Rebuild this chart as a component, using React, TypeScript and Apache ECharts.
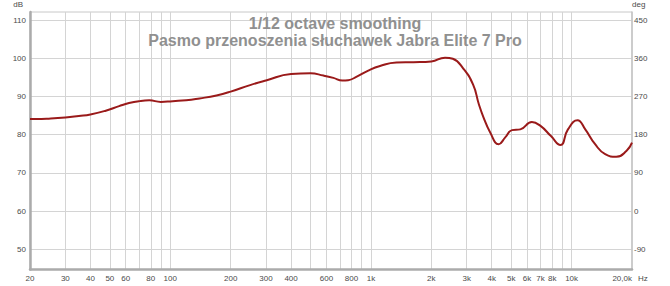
import React, { useEffect, useRef } from "react";
import * as echarts from "echarts";

const freqHz = [20, 21.5, 24.8, 30, 35, 40, 47.7, 55.6, 62.3, 70, 78.6, 89.8, 102.7, 120, 140, 170, 200, 250, 300, 400, 500, 580, 650, 720, 770, 850, 970, 1110, 1340, 1630, 2000, 2340, 2560, 2880, 3230, 3450, 3630, 3930, 4330, 4670, 5050, 5550, 6340, 7000, 7870, 8800, 9590, 10700, 11700, 13100, 14700, 16700, 18800, 20000];
const levelDb = [84.1, 84.1, 84.2, 84.5, 84.9, 85.3, 86.3, 87.5, 88.3, 88.8, 89.0, 88.6, 88.8, 89.0, 89.5, 90.3, 91.3, 93.0, 94.2, 95.9, 96.1, 95.5, 94.9, 94.2, 94.3, 95.2, 96.8, 98.0, 98.9, 99.0, 99.2, 100.2, 99.9, 97.4, 93.1, 88.0, 84.7, 80.6, 77.5, 79.3, 81.2, 81.4, 83.3, 82.3, 79.7, 77.3, 81.4, 83.8, 81.4, 77.5, 74.9, 74.2, 75.8, 77.9];

const gridFreqs = [30, 40, 50, 60, 70, 80, 90, 100, 200, 300, 400, 500, 600, 700, 800, 900, 1000, 2000, 3000, 4000, 5000, 6000, 7000, 8000, 9000, 10000];
const labelFreqs = [20, 30, 40, 50, 60, 80, 100, 200, 300, 400, 600, 800, 1000, 2000, 3000, 4000, 5000, 6000, 7000, 8000, 10000, 20000];
const dbTicks = [50, 60, 70, 80, 90, 100, 110];
const degTicks = [-90, 0, 90, 180, 270, 360, 450];
const titleLines = ["1/12 octave smoothing", "Pasmo przenoszenia słuchawek Jabra Elite 7 Pro"];

const DB_MIN = 44.67;
const DB_MAX = 112.16;
const FREQ_MIN = 20;
const FREQ_MAX = 20000;

export default function App() {
  const ref = useRef<HTMLDivElement>(null);
  useEffect(() => {
    document.body.style.margin = "0";
    if (!ref.current) return;
    const chart = echarts.init(ref.current, null, { renderer: "svg" });
    const font = "'Liberation Sans', Arial, sans-serif";
    const labelColor = "#4a4a4a";
    const fmtFreq = (v: number) => {
      const f = Math.round(Math.pow(10, v));
      if (f >= 20000) return "20,0k";
      if (f >= 1000) return f / 1000 + "k";
      return String(f);
    };
    chart.setOption({
      animation: false,
      backgroundColor: "#ffffff",
      title: {
        text: titleLines.join("\n"),
        left: "center",
        top: 10,
        textStyle: {
          fontFamily: font,
          fontSize: 16,
          fontWeight: "bold",
          color: "#909090",
          lineHeight: 17,
        },
      },
      grid: {
        left: 30,
        right: 38,
        top: 10,
        bottom: 16.5,
        show: true,
        borderColor: "#c8c8c8",
        borderWidth: 1,
        containLabel: false,
      },
      xAxis: {
        type: "value",
        min: Math.log10(FREQ_MIN),
        max: Math.log10(FREQ_MAX),
        position: "bottom",
        name: "Hz",
        nameLocation: "end",
        nameGap: 3,
        nameTextStyle: {
          fontFamily: font,
          fontSize: 8,
          color: labelColor,
          verticalAlign: "top",
          padding: [5, 0, 0, 0],
        },
        axisLine: { show: true, onZero: false, lineStyle: { color: "#ababab", width: 2.5 } },
        axisTick: { show: false, customValues: gridFreqs.map((f) => Math.log10(f)) },
        axisLabel: {
          customValues: labelFreqs.map((f) => Math.log10(f)),
          formatter: fmtFreq,
          fontFamily: font,
          fontSize: 8,
          color: labelColor,
          margin: 5,
          alignMaxLabel: "right",
          showMinLabel: true,
          showMaxLabel: true,
        },
        splitLine: { show: true, lineStyle: { color: "#d4d4d4", width: 1 } },
      },
      yAxis: [
        {
          type: "value",
          min: DB_MIN,
          max: DB_MAX,
          name: "dB",
          nameLocation: "end",
          nameGap: 4,
          nameTextStyle: {
            fontFamily: font,
            fontSize: 8,
            color: labelColor,
            align: "right",
            padding: [0, 7, 0, 0],
          },
          axisLine: { show: true, onZero: false, lineStyle: { color: "#ababab", width: 2.5 } },
          axisTick: { show: false, customValues: dbTicks },
          axisLabel: {
            customValues: dbTicks,
            fontFamily: font,
            fontSize: 8,
            color: labelColor,
            margin: 4,
          },
          splitLine: { show: true, lineStyle: { color: "#d4d4d4", width: 1 } },
        },
        {
          type: "value",
          position: "right",
          min: (DB_MIN - 60) * 9,
          max: (DB_MAX - 60) * 9,
          name: "deg",
          nameLocation: "end",
          nameGap: 4,
          nameTextStyle: {
            fontFamily: font,
            fontSize: 8,
            color: labelColor,
            align: "left",
          },
          axisLine: { show: true, onZero: false, lineStyle: { color: "#c4c4c4", width: 1.5 } },
          axisTick: { show: false, customValues: degTicks },
          axisLabel: {
            customValues: degTicks,
            fontFamily: font,
            fontSize: 8,
            color: labelColor,
            margin: 2,
          },
          splitLine: { show: false },
        },
      ],
      series: [
        {
          type: "line",
          xAxisIndex: 0,
          yAxisIndex: 0,
          data: freqHz.map((f, i) => [Math.log10(f), levelDb[i]]),
          smooth: 0.5,
          showSymbol: false,
          symbol: "none",
          lineStyle: { color: "#9a1a1a", width: 2 },
          z: 5,
        },
      ],
    });
    return () => chart.dispose();
  }, []);
  return <div ref={ref} style={{ width: 670, height: 286 }} />;
}
